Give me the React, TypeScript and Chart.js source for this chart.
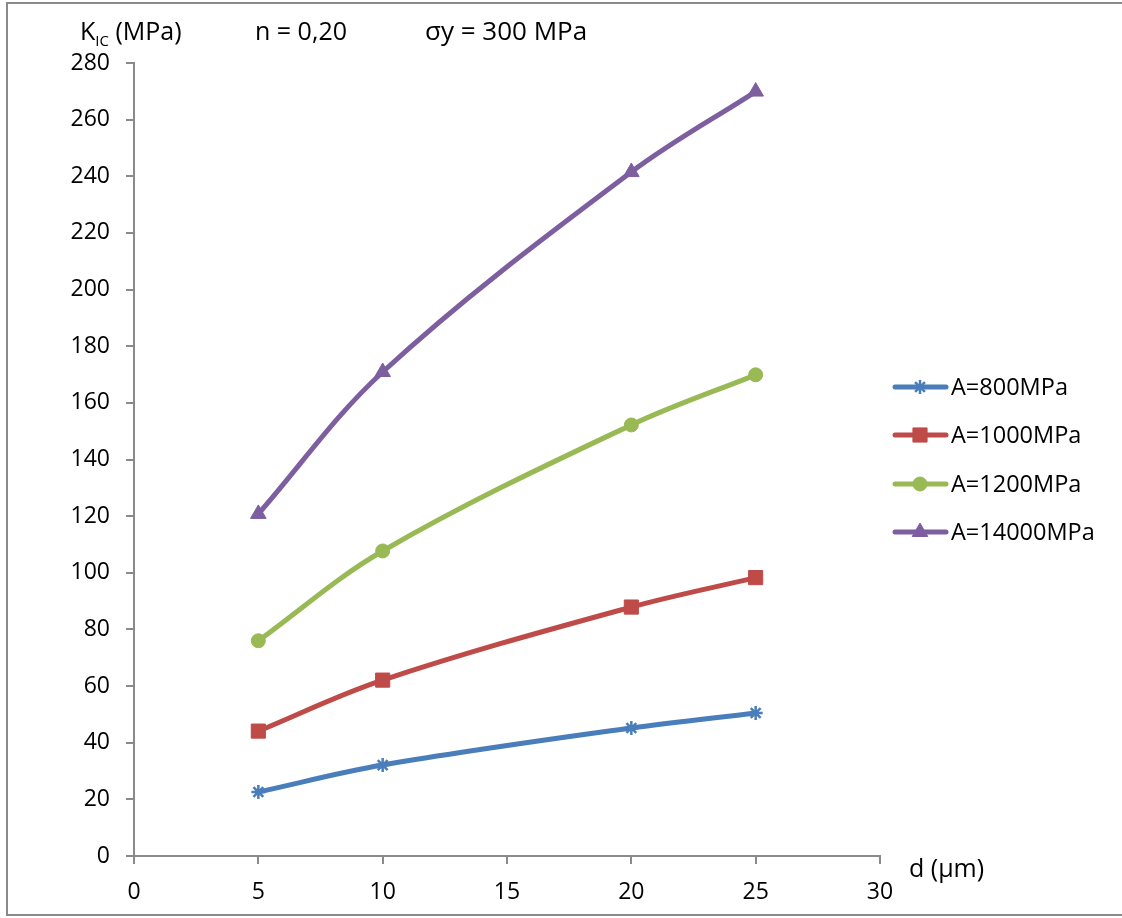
import React, { useEffect, useRef } from "react";
import { Chart, registerables } from "chart.js";

Chart.register(...registerables);

const xValues = [5, 10, 20, 25];
const seriesLabels = ["A=800MPa", "A=1000MPa", "A=1200MPa", "A=14000MPa"];
const a800 = [22.6, 32.1, 45.2, 50.5];
const a1000 = [44.1, 62.1, 87.9, 98.3];
const a1200 = [76.0, 107.7, 152.2, 169.9];
const a14000 = [120.8, 170.9, 241.5, 269.9];
const seriesColors = ["#4A7EBB", "#BE4B48", "#98B954", "#7D5FA0"];
const seriesMarkers = ["star", "rect", "circle", "triangle"];
const markerRadii = [7, 10, 7, 9];
const yTitle = "K";
const ySub = "IC";
const yTitleRest = " (MPa)";
const note1 = "n = 0,20";
const note2 = "σy = 300 MPa";
const xTitle = "d (µm)";

const FONT = "'Open Sans', 'Liberation Sans', sans-serif";

export default function App() {
  const ref = useRef<HTMLCanvasElement | null>(null);

  useEffect(() => {
    const canvas = ref.current;
    if (!canvas) return;
    const values = [a800, a1000, a1200, a14000];
    const datasets = values.map((vals, i) => ({
      label: seriesLabels[i],
      data: vals.map((v, j) => ({ x: xValues[j], y: v })),
      borderColor: seriesColors[i],
      backgroundColor: seriesColors[i],
      borderWidth: 5,
      pointStyle: seriesMarkers[i] as any,
      pointRadius: markerRadii[i],
      pointBorderWidth: i === 0 ? 2.5 : 1,
      pointBackgroundColor: seriesColors[i],
      pointBorderColor: seriesColors[i],
      tension: 0.35,
      fill: false,
    }));

    function drawPoint(ctx: CanvasRenderingContext2D, style: string, r: number, cx: number, cy: number, bw: number) {
      ctx.lineWidth = bw;
      ctx.beginPath();
      if (style === "rect") {
        const s = Math.SQRT1_2 * r;
        ctx.rect(cx - s, cy - s, 2 * s, 2 * s);
        ctx.fill();
        ctx.stroke();
      } else if (style === "circle") {
        ctx.arc(cx, cy, r, 0, Math.PI * 2);
        ctx.fill();
        ctx.stroke();
      } else if (style === "triangle") {
        const a = -Math.PI / 2;
        for (let k = 0; k < 3; k++) {
          const ang = a + (k * 2 * Math.PI) / 3;
          const px = cx + Math.cos(ang) * r;
          const py = cy + Math.sin(ang) * r;
          if (k === 0) ctx.moveTo(px, py);
          else ctx.lineTo(px, py);
        }
        ctx.closePath();
        ctx.fill();
        ctx.stroke();
      } else if (style === "star") {
        for (let k = 0; k < 4; k++) {
          const ang = (k * Math.PI) / 4;
          ctx.moveTo(cx + Math.sin(ang) * r, cy - Math.cos(ang) * r);
          ctx.lineTo(cx - Math.sin(ang) * r, cy + Math.cos(ang) * r);
        }
        ctx.stroke();
      }
    }

    const decor = {
      id: "decor",
      afterDraw(chart: any) {
        const ctx = chart.ctx as CanvasRenderingContext2D;
        ctx.save();
        ctx.strokeStyle = "#8a8a8a";
        ctx.lineWidth = 2;
        ctx.strokeRect(7, 3, 1130, 912);
        ctx.fillStyle = "#000";
        ctx.textBaseline = "alphabetic";
        ctx.textAlign = "left";
        ctx.font = `25px ${FONT}`;
        ctx.fillText(yTitle, 80, 40);
        let x = 80 + ctx.measureText(yTitle).width;
        ctx.font = `15px ${FONT}`;
        ctx.fillText(ySub, x, 46);
        x += ctx.measureText(ySub).width;
        ctx.font = `25px ${FONT}`;
        ctx.fillText(yTitleRest, x, 40);
        ctx.fillText(note1, 255, 40);
        ctx.font = `26px ${FONT}`;
        ctx.fillText(note2, 425, 40);
        ctx.font = `25px ${FONT}`;
        ctx.fillText(xTitle, 909, 877);
        const ys = [387, 435, 484, 532];
        chart.data.datasets.forEach((ds: any, i: number) => {
          const y = ys[i];
          ctx.strokeStyle = ds.borderColor;
          ctx.lineWidth = 5;
          ctx.lineCap = "round";
          ctx.beginPath();
          ctx.moveTo(895, y);
          ctx.lineTo(946, y);
          ctx.stroke();
          ctx.lineCap = "butt";
          ctx.fillStyle = ds.backgroundColor;
          ctx.strokeStyle = ds.borderColor;
          drawPoint(ctx, ds.pointStyle, ds.pointRadius, 920, y, ds.pointBorderWidth);
          ctx.fillStyle = "#000";
          ctx.font = `23.5px ${FONT}`;
          ctx.textBaseline = "middle";
          ctx.fillText(ds.label, 951, y + 1);
        });
        ctx.restore();
      },
    };

    const chart = new Chart(canvas, {
      type: "line",
      data: { datasets },
      plugins: [decor],
      options: {
        animation: false,
        responsive: false,
        layout: { padding: { left: 0, top: 63, right: 242, bottom: 0 } },
        plugins: { legend: { display: false }, tooltip: { enabled: false } },
        scales: {
          x: {
            type: "linear",
            min: 0,
            max: 30,
            ticks: { stepSize: 5, color: "#000", font: { family: FONT, size: 23 }, padding: 15, maxRotation: 0 },
            grid: { drawOnChartArea: false, drawTicks: true, tickLength: 8, color: "#8a8a8a", lineWidth: 2 },
            border: { display: true, color: "#8a8a8a", width: 2 },
            afterFit: (s: any) => { s.height = 62; },
          },
          y: {
            type: "linear",
            min: 0,
            max: 280,
            ticks: { stepSize: 20, color: "#000", font: { family: FONT, size: 23 }, padding: 16 },
            grid: { drawOnChartArea: false, drawTicks: true, tickLength: 8, color: "#8a8a8a", lineWidth: 2 },
            border: { display: true, color: "#8a8a8a", width: 2 },
            afterFit: (s: any) => { s.width = 134; },
          },
        },
      },
    });
    return () => chart.destroy();
  }, []);

  return (
    <div style={{ position: "fixed", left: 0, top: 0, width: 1122, height: 918, background: "#fff" }}>
      <canvas ref={ref} width={1122} height={918} />
    </div>
  );
}
